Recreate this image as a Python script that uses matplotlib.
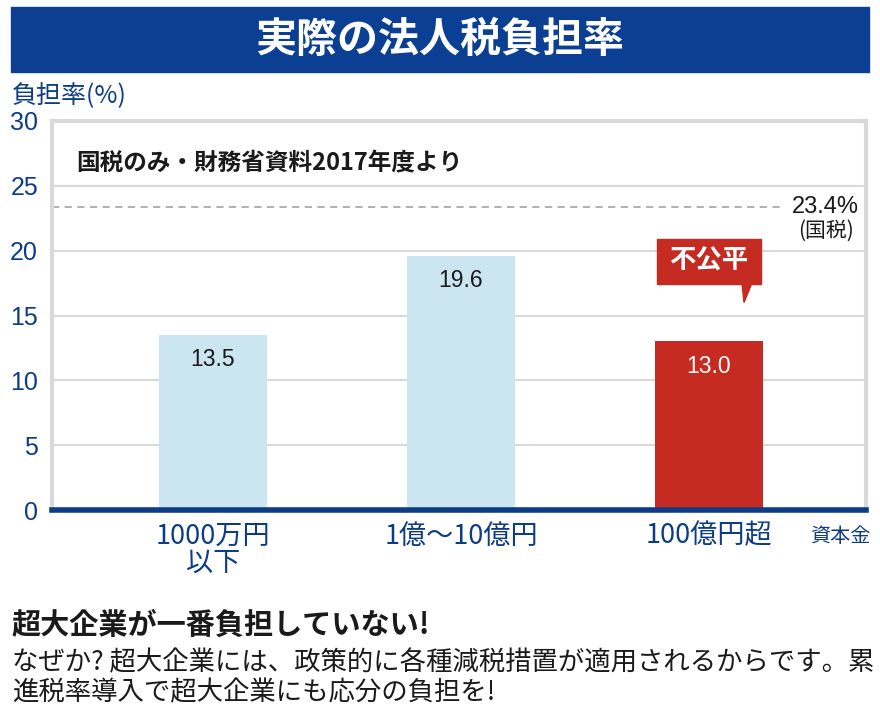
import matplotlib.pyplot as plt
from matplotlib.patches import Rectangle, Polygon

plt.rcParams['font.family'] = ['Noto Sans CJK JP', 'DejaVu Sans']

# data
categories = ['1000万円\n以下', '1億〜10億円', '100億円超']
rates = [13.5, 19.6, 13.0]
value_labels = ['13.5', '19.6', '13.0']
national_rate = 23.4
y_ticks = [0, 5, 10, 15, 20, 25, 30]

navy = '#0d3c86'
banner_blue = '#0a3f94'
light_blue = '#cce6f1'
red = '#c62b22'
grid_gray = '#d9d9d9'

fig = plt.figure(figsize=(8.8, 7.16), dpi=100)
W, H = 880, 716

def fx(px):
    return px / W

def fy(py):
    return 1 - py / H

# title banner
fig.patches.append(Rectangle((fx(11), fy(72)), fx(869) - fx(11), fy(7) - fy(72),
                             transform=fig.transFigure, color=banner_blue, zorder=0))
fig.text(fx(440), fy(40), '実際の法人税負担率', color='white', fontsize=29.5,
         fontweight='bold', ha='center', va='center')

fig.text(fx(12), fy(96), '負担率(%)', color=navy, fontsize=18, ha='left', va='center')

# main axes
ax = fig.add_axes([fx(52), fy(510), fx(866) - fx(52), fy(121) - fy(510)])
x = list(range(len(categories)))
colors = [light_blue, light_blue, red]
ax.bar(x, rates, width=0.435, color=colors, zorder=2)

ax.set_xlim(-0.649, 2.633)
ax.set_ylim(0, 30)
ax.set_yticks(y_ticks)
ax.set_yticklabels([str(t) for t in y_ticks], family=['Liberation Sans'], fontsize=18, color=navy)
ax.tick_params(axis='y', length=0, pad=10)
ax.set_xticks(x)
ax.set_xticklabels(categories, fontsize=19.5, color=navy, linespacing=1.0, va='top')
ax.tick_params(axis='x', length=0, pad=9)
ax.grid(axis='y', color=grid_gray, lw=1.5, zorder=0)

for side in ['left', 'right', 'top']:
    ax.spines[side].set_color(grid_gray)
    ax.spines[side].set_linewidth(3)
ax.spines['bottom'].set_color(navy)
ax.spines['bottom'].set_linewidth(4)
ax.spines['bottom'].set_zorder(5)

# value labels
for i, (v, lab) in enumerate(zip(rates, value_labels)):
    ax.text(i, v - 1.9, lab, ha='center', va='center', fontsize=16.5,
            family=['Liberation Sans'], color='white' if colors[i] == red else '#1a1a1a', zorder=3)

# national tax reference line
ax.plot([-0.649, 2.30], [national_rate, national_rate], ls=(0, (4, 3)), color='#aaaaaa', lw=1.3, zorder=1)
ax.text(2.47, national_rate, f'{national_rate}%', ha='center', va='center', fontsize=17,
        family=['Liberation Sans'], color='#1a1a1a')
ax.text(2.47, national_rate - 1.85, '(国税)', ha='center', va='center', fontsize=15, color='#1a1a1a')

# note
ax.text(0.03, 0.89, '国税のみ・財務省資料2017年度より', transform=ax.transAxes, fontsize=17,
        fontweight='bold', color='#1a1a1a', ha='left', va='center',
        bbox=dict(facecolor='white', edgecolor='none', pad=3), zorder=4)

# callout on the largest companies
cx, cv = 2, rates[2]
ax.add_patch(Rectangle((cx - 0.21, cv + 4.45), 0.42, 3.45, color=red, zorder=4))
ax.add_patch(Polygon([(cx + 0.133, cv + 4.5), (cx + 0.173, cv + 4.5), (cx + 0.141, cv + 3.0)],
                     closed=True, color=red, zorder=4))
ax.text(cx, cv + 6.2, '不公平', ha='center', va='center', fontsize=19, fontweight='bold',
        color='white', zorder=5)

fig.text(fx(840), fy(537), '資本金', color=navy, fontsize=14.5, ha='center', va='center')

# bottom comment
fig.text(fx(12), fy(625), '超大企業が一番負担していない!', fontsize=21, fontweight='bold',
         color='#1a1a1a', ha='left', va='center')
fig.text(fx(12), fy(663), 'なぜか? 超大企業には、政策的に各種減税措置が適用されるからです。累',
         fontsize=19, color='#1a1a1a', ha='left', va='center')
fig.text(fx(12), fy(693), '進税率導入で超大企業にも応分の負担を!',
         fontsize=19, color='#1a1a1a', ha='left', va='center')

fig.savefig('out.png', dpi=100)
